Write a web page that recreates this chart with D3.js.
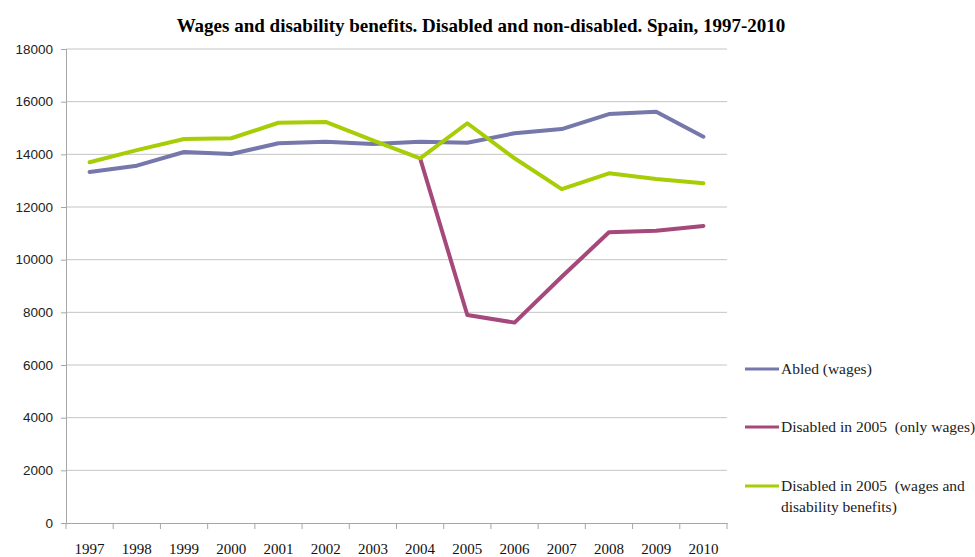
<!DOCTYPE html>
<html>
<head>
<meta charset="utf-8">
<script src="https://cdn.jsdelivr.net/npm/d3@7"></script>
<style>
  body { margin: 0; background: #fff; }
  svg { display: block; }
</style>
</head>
<body>
<div id="chart"></div>
<script>
// data
const years = ['1997', '1998', '1999', '2000', '2001', '2002', '2003', '2004', '2005', '2006', '2007', '2008', '2009', '2010'];
const abled = [13330, 13570, 14090, 14010, 14420, 14480, 14390, 14480, 14440, 14800, 14960, 15530, 15620, 14670];
const disabledWages = [null, null, null, null, null, null, null, 13850, 7900, 7610, 9350, 11040, 11100, 11280];
const disabledBenefits = [13700, 14160, 14580, 14610, 15200, 15230, 14530, 13850, 15180, 13850, 12680, 13280, 13060, 12900];
const yTicks = [0, 2000, 4000, 6000, 8000, 10000, 12000, 14000, 16000, 18000];

const series = [
  { name: 'Abled (wages)', values: abled, color: '#7677aa', lines: ['Abled (wages)'] },
  { name: 'Disabled in 2005 (only wages)', values: disabledWages, color: '#a5487b', lines: ['Disabled in 2005  (only wages)'] },
  { name: 'Disabled in 2005 (wages and disability benefits)', values: disabledBenefits, color: '#a6cd06', lines: ['Disabled in 2005  (wages and', 'disability benefits)'] }
];

const width = 975, height = 557;
const margin = { top: 49, right: 248, bottom: 34, left: 66 };

const svg = d3.select('#chart').append('svg')
  .attr('width', width)
  .attr('height', height);

const x = d3.scaleBand().domain(years).range([margin.left, width - margin.right]);
const y = d3.scaleLinear().domain([0, 18000]).range([height - margin.bottom, margin.top]);

// title
svg.append('text')
  .attr('x', 481)
  .attr('y', 32)
  .attr('text-anchor', 'middle')
  .style('font-family', '"Liberation Serif", serif')
  .style('font-weight', 'bold')
  .style('font-size', '19px')
  .style('fill', '#000')
  .text('Wages and disability benefits. Disabled and non-disabled. Spain, 1997-2010');

// gridlines
svg.append('g')
  .selectAll('line')
  .data(yTicks.filter(d => d > 0))
  .enter()
  .append('line')
  .attr('x1', margin.left)
  .attr('x2', width - margin.right)
  .attr('y1', d => y(d))
  .attr('y2', d => y(d))
  .style('stroke', '#c4c4c4')
  .style('stroke-width', '1px');

// y axis
const yAxis = svg.append('g')
  .attr('transform', `translate(${margin.left},0)`)
  .call(d3.axisLeft(y).tickValues(yTicks).tickSize(5).tickPadding(8).tickFormat(d3.format('d')));
yAxis.select('.domain').style('stroke', '#a6a6a6');
yAxis.selectAll('.tick line').style('stroke', '#a6a6a6');
yAxis.selectAll('text')
  .style('font-family', '"Liberation Sans", Arial, sans-serif')
  .style('font-size', '13.5px')
  .style('fill', '#222');

// x axis, ticks between the categories
const xAxis = svg.append('g')
  .attr('transform', `translate(0,${y(0)})`)
  .call(d3.axisBottom(x).tickSize(0).tickPadding(20));
xAxis.select('.domain').style('stroke', '#a6a6a6');
xAxis.selectAll('text')
  .style('font-family', '"Liberation Serif", serif')
  .style('font-size', '15px')
  .style('fill', '#111');
xAxis.selectAll('.sep')
  .data(years.concat(['end']))
  .enter()
  .append('line')
  .attr('class', 'sep')
  .attr('x1', (d, i) => margin.left + i * x.step())
  .attr('x2', (d, i) => margin.left + i * x.step())
  .attr('y1', 0)
  .attr('y2', 6)
  .style('stroke', '#a6a6a6');

// lines
const line = d3.line()
  .defined(d => d.v != null)
  .x(d => x(d.year) + x.bandwidth() / 2)
  .y(d => y(d.v));

svg.append('g')
  .selectAll('path')
  .data(series)
  .enter()
  .append('path')
  .attr('d', s => line(s.values.map((v, i) => ({ year: years[i], v: v }))))
  .style('fill', 'none')
  .style('stroke', s => s.color)
  .style('stroke-width', '4px')
  .style('stroke-linejoin', 'round')
  .style('stroke-linecap', 'round');

// legend
const legendY = [369, 427, 486];
const legend = svg.append('g')
  .selectAll('g')
  .data(series)
  .enter()
  .append('g')
  .attr('transform', (d, i) => `translate(745,${legendY[i]})`);

legend.append('line')
  .attr('x1', 0)
  .attr('x2', 34)
  .attr('y1', 0)
  .attr('y2', 0)
  .style('stroke', d => d.color)
  .style('stroke-width', '3px');

legend.append('text')
  .style('font-family', '"Liberation Serif", serif')
  .style('font-size', '15.5px')
  .style('fill', '#222')
  .selectAll('tspan')
  .data(d => d.lines)
  .enter()
  .append('tspan')
  .attr('x', 36)
  .attr('y', (d, i) => 5 + i * 21)
  .style('white-space', 'pre')
  .text(d => d);
</script>
</body>
</html>
